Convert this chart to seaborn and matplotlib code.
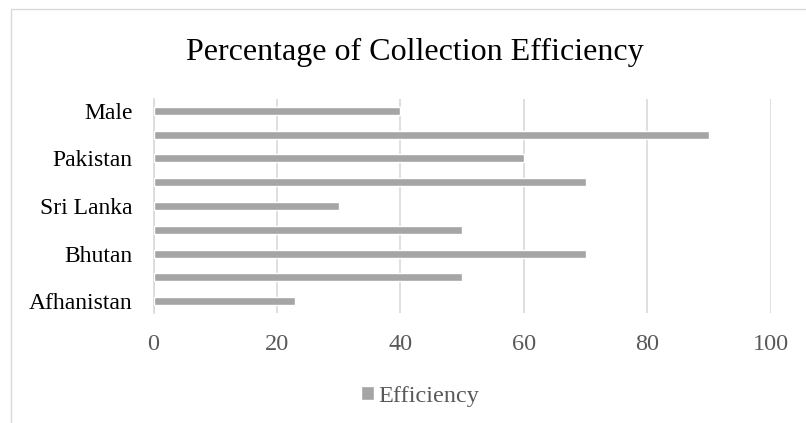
import matplotlib
matplotlib.use("Agg")
import matplotlib.pyplot as plt
import seaborn as sns
import pandas as pd
from matplotlib.patches import Rectangle

categories = ["Afhanistan", "Bangladesh", "Bhutan", "India", "Sri Lanka",
              "Nepal", "Pakistan", "Maldives", "Male"]
shown_labels = ["Afhanistan", "", "Bhutan", "", "Sri Lanka", "", "Pakistan", "", "Male"]
efficiency = [23, 50, 70, 50, 30, 70, 60, 90, 40]
xticks = [0, 20, 40, 60, 80, 100]

sns.set_theme(style="white")
plt.rcParams['font.family'] = ['Liberation Serif', 'DejaVu Serif']

df = pd.DataFrame({"Country": categories[::-1], "Efficiency": efficiency[::-1]})

fig = plt.figure(figsize=(8.06, 4.23), dpi=100)
fig.patch.set_facecolor("white")
# chart frame
fig.add_artist(Rectangle((11/806, -0.05), 2, 1 - 9/423 + 0.05, transform=fig.transFigure,
                         fill=False, edgecolor="#d9d9d9", linewidth=1))

ax = fig.add_axes([153.5/806, 1 - 313/423, (770.7 - 153.5)/806, (313 - 99)/423])
sns.barplot(data=df, y="Country", x="Efficiency", orient="h", color="#a5a5a5",
            saturation=1, width=0.34, ax=ax, label="Efficiency", zorder=3)

ax.set_xlim(0, 100)
ax.set_ylim(len(categories) - 0.5, -0.5)
ax.set_xticks(xticks)
ax.set_xticklabels([str(t) for t in xticks], fontsize=17.5, color="#595959")
ax.set_yticks(range(len(categories)))
ax.set_yticklabels(shown_labels[::-1], fontsize=17, color="#000000")
ax.tick_params(axis="both", length=0)
ax.tick_params(axis="x", pad=15)
ax.tick_params(axis="y", pad=15)
ax.set_xlabel("")
ax.set_ylabel("")
ax.grid(axis="x", color="#d9d9d9", linewidth=1.2, zorder=0)
ax.set_axisbelow(True)
for s in ["top", "right", "bottom"]:
    ax.spines[s].set_visible(False)
ax.spines["left"].set_color("#d9d9d9")
ax.spines["left"].set_linewidth(1.2)

fig.text(415/806, 1 - 60/423, "Percentage of Collection Efficiency", ha="center", va="baseline",
         fontsize=23, color="#000000")

leg = ax.legend(loc="center", bbox_to_anchor=(420/806, 1 - 396/423), bbox_transform=fig.transFigure,
                frameon=False, fontsize=17.5, handlelength=0.55, handleheight=0.55,
                handletextpad=0.15, borderpad=0)
for t in leg.get_texts():
    t.set_color("#595959")

fig.savefig("out.png", dpi=100, facecolor="white")
